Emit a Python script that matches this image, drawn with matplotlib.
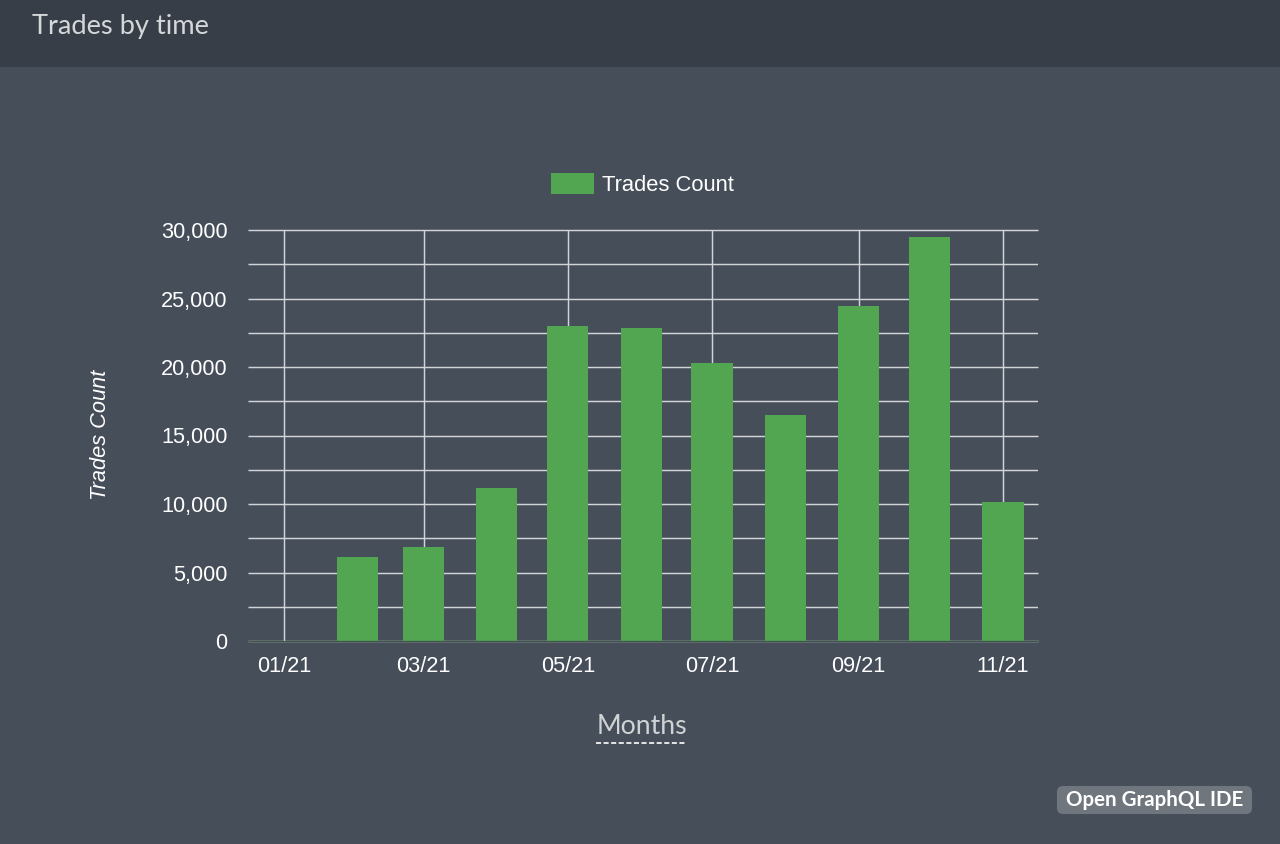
import datetime as dt
import matplotlib
matplotlib.use("Agg")
import matplotlib.pyplot as plt
import matplotlib.dates as mdates
from matplotlib.patches import Rectangle, FancyBboxPatch
from matplotlib.ticker import FuncFormatter, MultipleLocator

months = ["2021-01-01", "2021-02-01", "2021-03-01", "2021-04-01", "2021-05-01", "2021-06-01",
          "2021-07-01", "2021-08-01", "2021-09-01", "2021-10-01", "2021-11-01"]
trades = [0, 6130, 6860, 11170, 22990, 22880, 20290, 16500, 24450, 29490, 10150]
tick_months = ["2021-01-01", "2021-03-01", "2021-05-01", "2021-07-01", "2021-09-01", "2021-11-01"]
series_name = "Trades Count"
title = "Trades by time"
x_title = "Months"
y_title = "Trades Count"
button = "Open GraphQL IDE"

BG = "#464e59"; HEAD = "#373e47"; GREEN = "#52a551"; GRID = "#d2d5d7"
W, H = 1280, 844
fig = plt.figure(figsize=(W/100, H/100), dpi=100, facecolor=BG)

ov = fig.add_axes([0, 0, 1, 1], zorder=0)
ov.set_xlim(0, W); ov.set_ylim(H, 0); ov.axis("off")
ov.add_patch(Rectangle((0, 0), W, 67, fc=HEAD, ec="none"))
ov.text(32, 26.5, title, color="#d5d8da", fontsize=19.6, family="Lato", va="center", ha="left")
ov.text(642, 727, x_title, color="#d0d3d6", fontsize=19.2, family="Lato", va="center", ha="center")
ov.plot([596, 687], [743, 743], color="#e4e6e8", lw=1.4, dashes=(2.6, 1.3))
ov.add_patch(FancyBboxPatch((1062, 791), 185, 18, boxstyle="round,pad=5,rounding_size=6", fc="#6f767e", ec="none"))
ov.text(1154.5, 800, button, color="white", fontsize=14.8, family="Lato", weight="bold", va="center", ha="center")
ov.text(100.5, 435, y_title, color="white", fontsize=15.7, family="Liberation Sans", style="italic",
        rotation=90, va="center", ha="center")

ax = fig.add_axes([248/W, 1-641/H, (1038-248)/W, 411/H], zorder=1)
ax.patch.set_alpha(0)
x = [mdates.date2num(dt.date.fromisoformat(m)) for m in months]
ticks = [mdates.date2num(dt.date.fromisoformat(m)) for m in tick_months]
bars = ax.bar(x, trades, width=17.4, color=GREEN, label=series_name, zorder=3)
ax.set_xlim(x[0]-15.2, x[0]+318.8)
ax.set_ylim(0, 30000)
ax.set_xticks(ticks)
ax.xaxis.set_major_formatter(mdates.DateFormatter("%m/%y"))
ax.yaxis.set_major_locator(MultipleLocator(5000))
ax.yaxis.set_minor_locator(MultipleLocator(2500))
ax.yaxis.set_major_formatter(FuncFormatter(lambda v, _: f"{int(v):,}"))
ax.grid(True, which="major", color=GRID, lw=1.05, zorder=1, clip_on=False, solid_capstyle="butt")
ax.grid(True, which="minor", axis="y", color=GRID, lw=1.05, zorder=1, solid_capstyle="butt")
ax.set_axisbelow(True)
for s in ax.spines.values():
    s.set_visible(False)
ax.spines["bottom"].set_visible(True)
ax.spines["bottom"].set_color("#3d5649")
ax.spines["bottom"].set_linewidth(0.9)
ax.spines["bottom"].set_capstyle("butt")
ax.spines["bottom"].set_zorder(5)
ax.tick_params(which="both", length=0, colors="white", labelsize=15.7)
ax.tick_params(axis="y", pad=14.8)
ax.tick_params(axis="x", pad=10.5)
for t in ax.get_xticklabels() + ax.get_yticklabels():
    t.set_family("Liberation Sans")
ax.yaxis.get_major_ticks()[0].gridline.set_visible(False)

leg = fig.legend(handles=[bars], labels=[series_name], loc="center", bbox_to_anchor=(642.5/W, 1-184.5/H),
                 frameon=False, handlelength=1.95, handleheight=1.05, handletextpad=0.4,
                 prop={"family": "Liberation Sans", "size": 15.8}, labelcolor="white")
fig.savefig("out.png", dpi=100, facecolor=BG)
